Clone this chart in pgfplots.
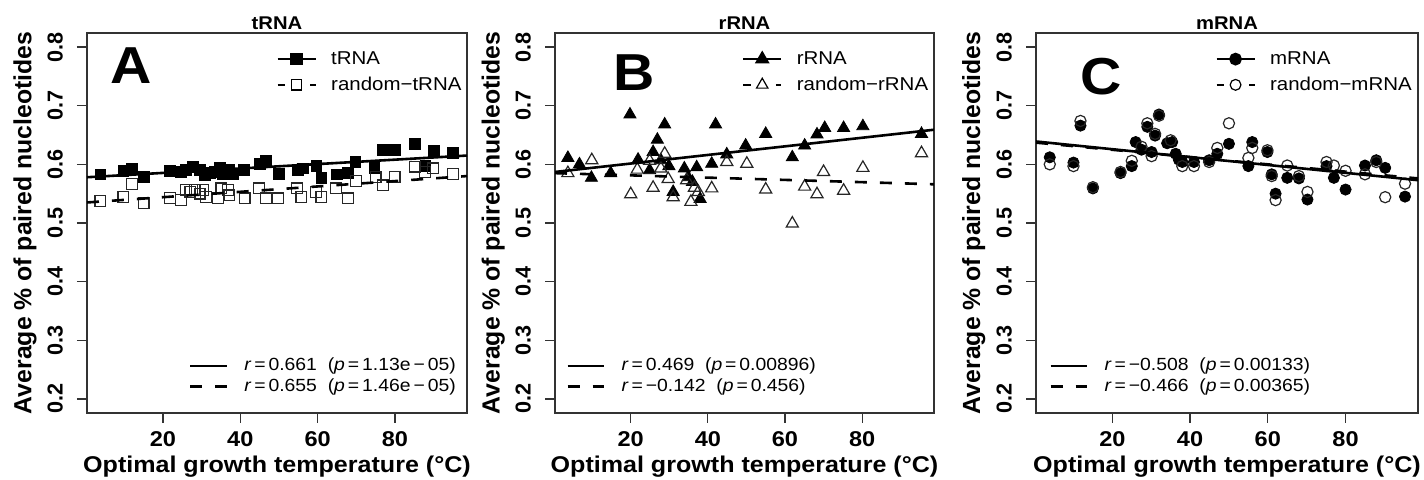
\documentclass[border=0pt]{standalone}
\usepackage{fontspec}
\setmainfont{Liberation Sans}[FakeStretch=1.1]
\newfontfamily\rotsans{Liberation Sans}
\usepackage{pgfplots}
\pgfplotsset{compat=1.18}

\pgfplotsset{
  panel/.style={
    scale only axis, width=190pt, height=190pt, clip mode=individual,
    xmin=0.36, xmax=98.64, ymin=0.176, ymax=0.824,
    xtick={20,40,60,80}, xticklabels={20,40,60,80},
    ytick={0.2,0.3,0.4,0.5,0.6,0.7,0.8},
    yticklabels={0.2,0.3,0.4,0.5,0.6,0.7,0.8},
    tick pos=left, tick align=outside, major tick length=5pt,
    axis line style={line width=0.6pt, black!80},
    tick style={line width=0.6pt, black!80},
    xticklabel style={font=\fontsize{10.7}{12}\selectfont\bfseries},
    yticklabel style={font=\rotsans\fontsize{10.8}{12}\selectfont\bfseries, rotate=90, anchor=south},
    yticklabel shift=3.5pt, xticklabel shift=0.5pt,
    xlabel={Optimal growth temperature (°C)},
    ylabel={Average \% of paired nucleotides},
    xlabel style={font=\fontsize{11.4}{13}\selectfont\bfseries,
      at={(axis description cs:0.5,-0.142)}, anchor=center},
    ylabel style={font=\rotsans\fontsize{12.4}{14}\selectfont\bfseries,
      at={(axis description cs:-0.163,0.5)}, anchor=center},
    legend cell align=left,
    legend style={draw=none, fill=none, inner sep=0pt, row sep=1.8pt, column sep=5.8pt,
      font=\fontsize{9.3}{11}\selectfont, nodes={inner sep=1.5pt}},
    legend image code/.code={\draw[mark repeat=2,mark phase=2] plot coordinates {(0pt,0pt) (9.5pt,0pt) (19pt,0pt)};},
  },
  rline/.style={black, line width=1.3pt, no marks},
  dline/.style={black, line width=1.3pt, no marks, dash pattern=on 6pt off 6.5pt},
  rlegend/.style={hide axis, scale only axis, width=190pt, height=190pt,
    xmin=0, xmax=1, ymin=0, ymax=1, legend cell align=left,
    legend style={draw=none, fill=none, inner sep=0pt, row sep=1.5pt, column sep=6pt,
      font=\fontsize{8.8}{10}\selectfont, nodes={inner xsep=2pt, inner ysep=0.5pt}},
    legend image code/.code={\draw (0pt,0pt) -- (18.3pt,0pt);}},
}
\tikzset{letter/.style={font=\fontsize{26}{26}\selectfont\bfseries},
  ptitle/.style={anchor=base, yshift=1.7pt, font=\fontsize{9.2}{10}\selectfont\bfseries}}
\newcommand{\rp}[2]{\textit{r}\,=\,#1\ \ (\textit{p}\,=\,#2)}

\begin{document}
\begin{tikzpicture}[x=1pt,y=1pt]
\useasboundingbox (0,0) rectangle (712,240);

% ---------------- A: tRNA ----------------
\begin{axis}[panel, at={(43.5pt,33.5pt)}, anchor=south west,
  legend style={at={(0.498,0.961)}, anchor=north west}]
\addlegendimage{black, line width=1pt, mark=square*, mark size=2.6pt, mark options={solid}}
\addlegendentry{tRNA}
\addlegendimage{black, line width=1pt, dash pattern=on 3.7pt off 12.6pt, mark=square, mark size=2.6pt, mark options={solid, line width=0.6pt}}
\addlegendentry{random−tRNA}
\addplot[forget plot, only marks, mark=square*, mark size=2.7pt, black] coordinates {
(3.8,0.583)(9.8,0.589)(12.0,0.593)(15.0,0.578)(21.9,0.589)(24.7,0.587)(26.0,0.591)
(27.8,0.596)(29.5,0.591)(30.8,0.581)(32.1,0.585)(33.4,0.587)(34.7,0.594)(35.5,0.583)
(37.2,0.590)(38.1,0.584)(40.9,0.590)(45.0,0.601)(46.7,0.606)(50.0,0.584)(54.9,0.591)
(56.2,0.593)(59.7,0.597)(61.0,0.577)(65.0,0.583)(67.8,0.585)(69.8,0.604)(74.7,0.594)
(76.9,0.624)(79.9,0.625)(85.1,0.635)(87.9,0.598)(90.0,0.623)(95.0,0.619)};
\addplot[forget plot, only marks, mark=square, mark size=2.7pt, black!85, mark options={line width=0.6pt}] coordinates {
(3.8,0.538)(9.8,0.544)(12.0,0.566)(15.0,0.534)(21.9,0.543)(24.7,0.539)(25.9,0.556)
(27.1,0.553)(28.2,0.556)(29.5,0.550)(30.3,0.556)(31.2,0.544)(34.2,0.542)(35.1,0.559)
(36.8,0.556)(37.2,0.547)(41.1,0.542)(44.8,0.559)(46.7,0.542)(49.7,0.542)(54.7,0.559)
(55.8,0.544)(59.6,0.553)(61.0,0.544)(64.8,0.559)(67.8,0.542)(70.0,0.572)(75.0,0.578)
(76.9,0.564)(79.9,0.578)(85.1,0.596)(87.7,0.587)(89.8,0.593)(95.0,0.584)};
\addplot[forget plot, rline] coordinates {(0.36,0.578)(98.64,0.615)};
\addplot[forget plot, dline] coordinates {(0.36,0.535)(98.64,0.580)};
\node[letter] at (axis cs:11.8,0.769) {A};
\node[ptitle] at (rel axis cs:0.5,1) {tRNA};
\end{axis}
\begin{axis}[rlegend, at={(43.5pt,33.5pt)}, anchor=south west,
  legend style={at={(0.982,0.045)}, anchor=south east}]
\addlegendimage{black, line width=1.3pt}
\addlegendentry{\rp{0.661}{1.13e\,−\,05}}
\addlegendimage{black, line width=1.3pt, dash pattern=on 6pt off 6.5pt}
\addlegendentry{\rp{0.655}{1.46e\,−\,05}}
\end{axis}

% ---------------- B: rRNA ----------------
\begin{axis}[panel, at={(277.5pt,33.5pt)}, anchor=south west, width=189.5pt,
  legend style={at={(0.493,0.961)}, anchor=north west}]
\addlegendimage{black, line width=1pt, mark=triangle*, mark size=3.3pt, mark options={solid}}
\addlegendentry{rRNA}
\addlegendimage{black, line width=1pt, dash pattern=on 3.7pt off 12.6pt, mark=triangle, mark size=3.3pt, mark options={solid, line width=0.6pt}}
\addlegendentry{random−rRNA}
\addplot[forget plot, only marks, mark=triangle*, mark size=3.5pt, black] coordinates {
(3.7,0.611)(6.7,0.600)(9.8,0.577)(14.8,0.585)(19.8,0.685)(21.9,0.608)(24.9,0.590)
(25.8,0.621)(26.9,0.642)(27.8,0.607)(28.8,0.668)(29.9,0.597)(31.0,0.553)(33.9,0.593)
(34.9,0.578)(36.0,0.570)(37.1,0.595)(38.0,0.541)(41.0,0.601)(42.0,0.668)(44.9,0.617)
(49.8,0.632)(55.0,0.652)(61.9,0.612)(65.1,0.632)(68.3,0.651)(70.3,0.662)(75.2,0.662)
(80.2,0.665)(95.4,0.652)};
\addplot[forget plot, only marks, mark=triangle, mark size=3.5pt, black!85, mark options={line width=0.6pt}] coordinates {
(3.7,0.585)(9.9,0.607)(20.0,0.549)(21.7,0.591)(24.9,0.606)(25.8,0.560)(27.8,0.593)
(28.8,0.618)(29.7,0.575)(31.0,0.544)(34.5,0.573)(35.6,0.536)(36.5,0.560)(37.5,0.553)
(41.0,0.559)(44.9,0.604)(50.1,0.601)(55.0,0.557)(61.9,0.499)(65.1,0.562)(68.3,0.549)
(70.0,0.587)(75.2,0.555)(80.2,0.594)(95.4,0.619)};
\addplot[forget plot, rline] coordinates {(0.36,0.587)(98.64,0.659)};
\addplot[forget plot, dline] coordinates {(0.36,0.585)(98.64,0.566)};
\node[letter] at (axis cs:21,0.757) {B};
\node[ptitle] at (rel axis cs:0.5,1) {rRNA};
\end{axis}
\begin{axis}[rlegend, at={(277.5pt,33.5pt)}, anchor=south west, width=189.5pt,
  legend style={at={(0.029,0.045)}, anchor=south west}]
\addlegendimage{black, line width=1.3pt}
\addlegendentry{\rp{0.469}{0.00896}}
\addlegendimage{black, line width=1.3pt, dash pattern=on 6pt off 6.5pt}
\addlegendentry{\rp{−0.142}{0.456}}
\end{axis}

% ---------------- C: mRNA ----------------
\begin{axis}[panel, at={(518pt,33.5pt)}, anchor=south west, width=191pt,
  legend style={at={(0.469,0.961)}, anchor=north west}]
\addlegendimage{black, line width=1pt, mark=*, mark size=2.7pt, mark options={solid}}
\addlegendentry{mRNA}
\addlegendimage{black, line width=1pt, dash pattern=on 3.7pt off 12.6pt, mark=o, mark size=2.7pt, mark options={solid, line width=0.6pt}}
\addlegendentry{random−mRNA}
\addplot[forget plot, only marks, mark=*, mark size=2.8pt, black] coordinates {
(3.9,0.612)(10.0,0.603)(11.8,0.666)(15.0,0.559)(22.1,0.585)(25.0,0.597)(26.0,0.638)
(27.5,0.625)(29.0,0.664)(30.1,0.621)(31.0,0.649)(32.0,0.685)(34.1,0.636)(35.4,0.638)
(36.3,0.618)(37.1,0.608)(38.0,0.604)(41.0,0.604)(44.9,0.607)(47.0,0.618)(50.0,0.635)
(55.0,0.597)(56.0,0.638)(59.9,0.621)(61.0,0.583)(62.0,0.550)(65.0,0.577)(68.0,0.576)
(70.2,0.540)(75.1,0.597)(77.0,0.577)(80.0,0.557)(85.0,0.598)(87.9,0.607)(90.2,0.594)
(95.3,0.545)};
\addplot[forget plot, only marks, mark=o, mark size=2.8pt, black!85, mark options={line width=0.6pt}] coordinates {
(3.9,0.600)(10.0,0.597)(11.8,0.674)(15.0,0.561)(22.1,0.587)(25.0,0.606)(27.5,0.630)
(29.0,0.670)(30.1,0.614)(31.0,0.652)(32.0,0.683)(35.0,0.641)(38.0,0.597)(41.0,0.597)
(44.9,0.604)(47.0,0.628)(50.0,0.670)(55.0,0.611)(56.0,0.628)(59.9,0.624)(61.0,0.580)
(62.0,0.539)(65.0,0.598)(68.0,0.580)(70.2,0.553)(75.1,0.604)(77.0,0.598)(80.0,0.589)
(85.0,0.583)(87.9,0.604)(90.2,0.544)(95.3,0.567)};
\addplot[forget plot, rline] coordinates {(0.36,0.639)(98.64,0.573)};
\addplot[forget plot, dline] coordinates {(0.36,0.637)(98.64,0.576)};
\node[letter] at (axis cs:17.2,0.750) {C};
\node[ptitle] at (rel axis cs:0.5,1) {mRNA};
\end{axis}
\begin{axis}[rlegend, at={(518pt,33.5pt)}, anchor=south west, width=191pt,
  legend style={at={(0.034,0.045)}, anchor=south west}]
\addlegendimage{black, line width=1.3pt}
\addlegendentry{\rp{−0.508}{0.00133}}
\addlegendimage{black, line width=1.3pt, dash pattern=on 6pt off 6.5pt}
\addlegendentry{\rp{−0.466}{0.00365}}
\end{axis}
\end{tikzpicture}
\end{document}
